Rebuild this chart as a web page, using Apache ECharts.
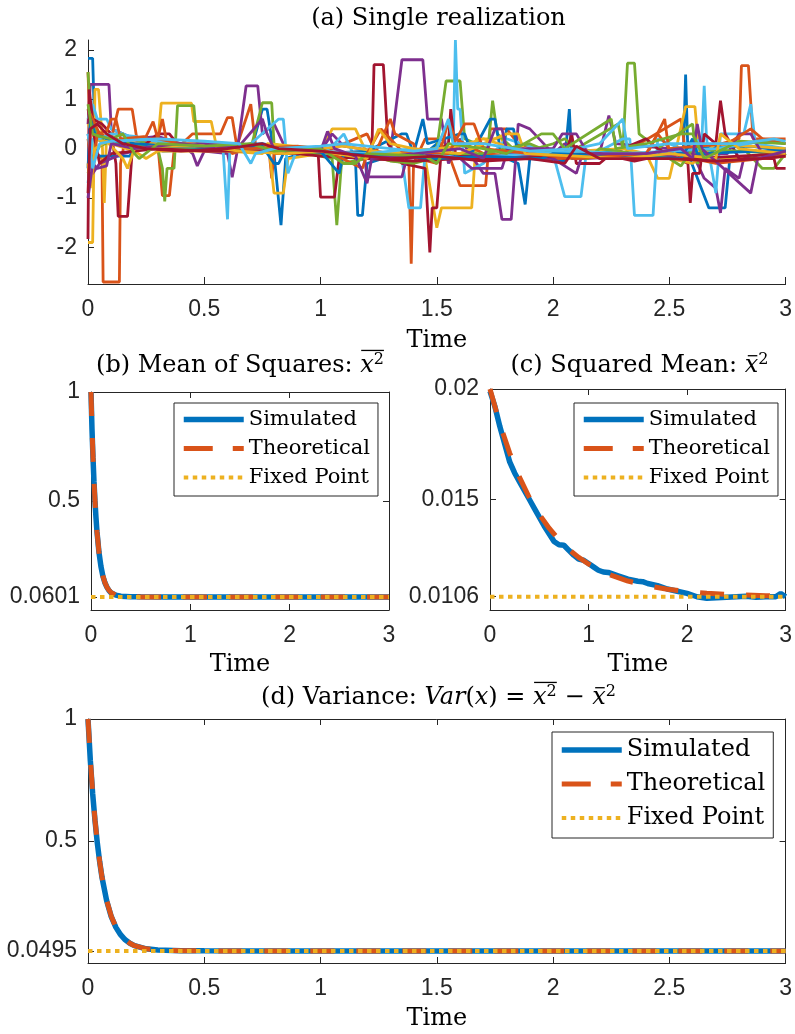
<!DOCTYPE html>
<html><head><meta charset="utf-8">
<script src="https://cdn.jsdelivr.net/npm/echarts@6/dist/echarts.min.js"></script>
<style>html,body{margin:0;padding:0;background:#fff}#c{width:795px;height:1034px}</style>
</head><body><div id="c"></div>
<script>
// ---------- DATA ----------
const matlabColors = ['#0072BD','#D95319','#EDB120','#7E2F8E','#77AC30','#4DBEEE','#A2142F'];
const yTicksA = [-2,-1,0,1,2];
const yTicksB = [0.0601,0.5,1];
const yTicksC = [0.0106,0.015,0.02];
const yTicksD = [0.0495,0.5,1];
const legendNames = ['Simulated','Theoretical','Fixed Point'];

// (a) single realization traces: [time, value]
const blue1 = [[0,1.83],[0.02,1.83],[0.03,0.2],[0.06,0.15],[0.1,0.1],[0.2,0.1],[0.3,0.05],[0.45,0.02],[0.55,0.0],[0.7,-0.05],[0.75,0.8],[0.77,0.8],[0.8,-0.1],[0.83,-1.55],[0.85,-0.2],[0.95,-0.05],[1.1,-0.1],[1.15,-0.2],[1.16,-1.35],[1.18,-1.35],[1.2,-0.3],[1.3,-0.15],[1.45,-0.1],[1.5,0.1],[1.55,-0.15],[1.8,-0.2],[1.85,-0.3],[1.88,-1.13],[1.9,-0.2],[2.05,-0.25],[2.07,0.8],[2.08,-0.2],[2.3,-0.15],[2.5,-0.1],[2.56,-0.1],[2.57,1.5],[2.58,-0.1],[2.67,-1.2],[2.74,-1.2],[2.76,-0.2],[3,-0.1]];
const orange1 = [[0,1.55],[0.01,0.2],[0.04,-0.1],[0.06,-0.2],[0.065,-2.7],[0.135,-2.7],[0.14,-0.3],[0.16,0.2],[0.3,0.1],[0.32,-0.95],[0.35,-0.95],[0.37,-0.05],[0.45,0.3],[0.57,0.3],[0.6,0.63],[0.62,0.63],[0.64,0.05],[0.7,0.9],[0.72,0.1],[0.78,-0.1],[0.79,-0.6],[0.8,-0.1],[1.0,-0.1],[1.2,0.3],[1.25,-0.2],[1.38,-0.3],[1.39,-2.33],[1.4,-0.3],[1.45,0.2],[1.5,0.2],[1.55,-0.1],[1.6,-0.75],[1.71,-0.75],[1.73,0.4],[1.8,0.4],[1.85,0.1],[2.0,-0.1],[2.3,-0.1],[2.55,0.6],[2.57,-0.1],[2.8,0.2],[2.81,1.68],[2.84,1.68],[2.86,0.2],[3,0.2]];
const yellow1 = [[0,-1.9],[0.02,-1.9],[0.03,1.2],[0.045,1.2],[0.06,0.3],[0.07,-1.1],[0.08,0.3],[0.15,0.3],[0.2,0.1],[0.3,0.1],[0.315,0.92],[0.445,0.92],[0.455,0.55],[0.53,0.55],[0.55,0.1],[0.7,0.0],[0.78,-0.05],[0.8,-0.9],[0.84,-0.9],[0.86,-0.2],[1.0,-0.1],[1.05,0.4],[1.15,0.4],[1.2,-0.1],[1.45,-0.2],[1.5,-1.6],[1.52,-1.2],[1.65,-1.2],[1.67,0.2],[1.78,0.2],[1.8,-0.1],[2.2,-0.15],[2.4,-0.1],[2.45,-0.6],[2.5,-0.6],[2.52,-0.2],[2.57,0.85],[2.61,0.85],[2.63,-0.2],[3,-0.15]];
const purple1 = [[0,0.5],[0.01,1.3],[0.09,1.3],[0.1,0.4],[0.2,0.2],[0.3,0.25],[0.4,0.1],[0.45,-0.1],[0.47,-0.35],[0.5,-0.05],[0.6,-0.1],[0.62,-0.58],[0.64,-0.1],[0.68,1.27],[0.73,1.27],[0.75,0.3],[0.8,0.5],[0.85,0.0],[1.0,-0.05],[1.05,0.3],[1.1,0.05],[1.3,-0.1],[1.35,1.8],[1.44,1.8],[1.46,0.6],[1.52,0.6],[1.55,-0.3],[1.6,0.2],[1.7,-0.5],[1.75,-0.5],[1.78,-1.43],[1.82,-1.43],[1.85,0.5],[1.9,0.4],[2.0,-0.1],[2.05,0.1],[2.2,-0.1],[2.24,0.67],[2.27,0.1],[2.5,0.0],[2.6,-0.1],[2.65,-0.6],[2.7,-0.8],[2.72,-1.3],[2.74,-0.4],[2.8,-0.6],[2.82,-0.2],[3,0.0]];
const green1 = [[0,1.55],[0.01,0.8],[0.03,0.4],[0.05,0.2],[0.1,0.1],[0.2,0.2],[0.3,0.0],[0.32,-0.4],[0.33,-1.07],[0.34,-0.4],[0.37,-0.4],[0.385,0.87],[0.455,0.87],[0.47,0.1],[0.6,0.0],[0.7,0.0],[0.75,0.93],[0.79,0.93],[0.8,0.1],[0.9,-0.05],[1.05,-0.2],[1.07,-1.55],[1.09,-0.3],[1.2,-0.2],[1.3,-0.1],[1.5,0.0],[1.54,1.37],[1.6,1.37],[1.62,0.2],[1.72,0.0],[1.74,0.97],[1.76,0.3],[1.85,-0.1],[2.0,0.1],[2.05,0.2],[2.1,0.0],[2.28,0.5],[2.3,0.0],[2.32,1.73],[2.35,1.73],[2.37,0.3],[2.45,0.0],[2.6,0.5],[2.62,-0.3],[2.7,0.0],[2.8,0.1],[2.9,-0.4],[2.95,-0.4],[3,-0.1]];
const cyan1 = [[0,0.6],[0.02,0.9],[0.04,0.6],[0.08,0.6],[0.1,0.4],[0.2,0.2],[0.4,0.1],[0.55,0.05],[0.58,0.05],[0.6,-1.43],[0.61,0.0],[0.7,0.1],[0.82,0.6],[0.84,0.6],[0.86,-0.5],[0.9,0.0],[1.0,-0.1],[1.05,0.05],[1.1,0.3],[1.15,-0.2],[1.35,-0.2],[1.38,-1.2],[1.43,-1.2],[1.45,-0.1],[1.57,-0.1],[1.58,2.2],[1.59,0.8],[1.6,0.8],[1.62,-0.5],[1.7,-0.3],[1.8,0.2],[2.0,-0.1],[2.05,-0.97],[2.12,-0.97],[2.14,-0.2],[2.3,0.2],[2.33,0.2],[2.35,-1.35],[2.43,-1.35],[2.45,0.2],[2.55,0.0],[2.64,0.2],[2.65,1.27],[2.66,0.2],[2.7,-0.9],[2.72,0.3],[2.82,0.3],[2.85,0.9],[2.87,0.1],[3,0.0]];
const red1 = [[0,-1.83],[0.005,1.2],[0.02,0.6],[0.06,0.5],[0.1,0.3],[0.12,-0.3],[0.13,-1.37],[0.17,-1.37],[0.19,-0.05],[0.25,0.1],[0.3,0.3],[0.35,0.3],[0.4,0.0],[0.6,0.1],[0.7,0.05],[0.9,0.0],[0.99,-0.1],[1.0,-0.98],[1.06,-0.98],[1.08,-0.2],[1.15,-0.1],[1.22,-0.2],[1.23,1.7],[1.27,1.7],[1.29,0.1],[1.35,-0.3],[1.45,-0.4],[1.47,-2.1],[1.48,-1.2],[1.5,-1.2],[1.52,0.0],[1.55,0.1],[1.56,0.8],[1.58,-0.1],[1.7,-0.2],[1.9,-0.1],[2.05,-0.2],[2.08,0.3],[2.1,-0.3],[2.2,-0.3],[2.25,-0.1],[2.4,0.2],[2.45,0.0],[2.58,-0.3],[2.59,-1.1],[2.6,-0.5],[2.63,-0.5],[2.65,0.3],[2.7,0.1],[2.72,0.97],[2.74,0.3],[2.8,-0.2],[2.95,-0.2],[2.96,-0.4],[3,-0.4]];
const blue2 = [[0,0.3],[0.02,-0.3],[0.03,-0.15],[0.18,-0.15],[0.2,0],[0.22,0.05],[0.3,0.05],[0.32,-0.05],[0.45,-0.03],[0.55,0.05],[0.75,0.1],[0.9,-0.05],[1.0,-0.1],[1.2,-0.05],[1.35,0.3],[1.37,0.3],[1.4,-0.1],[1.44,0.6],[1.46,0.1],[1.6,0.3],[1.62,0.3],[1.65,-0.1],[1.73,0.6],[1.75,0.6],[1.78,-0.2],[1.8,0.4],[1.83,0.4],[1.85,-0.15],[2.2,-0.05],[2.5,-0.15],[2.6,0],[2.85,0.05],[3,-0.05]];
const orange2 = [[0,0.8],[0.02,0.6],[0.05,0.3],[0.1,0.2],[0.13,0.8],[0.19,0.8],[0.21,0.2],[0.3,0.2],[0.32,0.6],[0.34,0.1],[0.6,0.1],[0.62,-0.1],[0.65,-0.05],[0.85,0.0],[1.0,-0.05],[1.2,-0.1],[1.23,-0.15],[1.3,0.6],[1.32,0.3],[1.4,0.1],[1.42,-0.2],[1.5,-0.3],[1.55,0.55],[1.58,0.2],[1.7,-0.1],[2.0,-0.2],[2.4,-0.15],[2.48,0.6],[2.5,-0.1],[2.7,-0.3],[2.9,-0.2],[3,-0.15]];
const yellow2 = [[0,0.5],[0.03,0.2],[0.1,0.1],[0.2,-0.05],[0.25,-0.2],[0.3,-0.05],[0.6,-0.05],[0.75,-0.1],[0.77,0.1],[1.0,0.0],[1.1,0.05],[1.3,-0.1],[1.5,0.0],[1.6,0.05],[1.7,0.2],[1.9,-0.1],[2.3,0.0],[2.6,-0.3],[2.7,0.1],[3,0.0]];
const purple2 = [[0,-0.6],[0.02,-0.5],[0.05,-0.3],[0.15,-0.1],[0.3,0.05],[0.5,0.1],[0.7,0.0],[0.9,-0.05],[1.1,-0.1],[1.19,-0.2],[1.2,-0.57],[1.35,-0.57],[1.37,-0.2],[1.5,-0.1],[1.6,-0.2],[1.65,-0.4],[1.78,-0.4],[1.8,-0.1],[2.0,-0.2],[2.1,-0.5],[2.12,-0.2],[2.4,-0.15],[2.75,-0.1],[2.8,0.3],[2.85,0.3],[2.9,-0.1],[3,-0.05]];
const green2 = [[0,-0.5],[0.02,-0.2],[0.05,0.05],[0.12,0.2],[0.2,0.05],[0.3,0.02],[0.5,0.0],[0.7,-0.05],[0.95,-0.1],[1.1,-0.2],[1.2,-0.1],[1.3,-0.25],[1.4,-0.3],[1.48,-0.2],[1.55,-0.1],[1.7,-0.1],[1.9,0.1],[2.0,-0.1],[2.15,-0.2],[2.2,0.0],[2.5,-0.2],[2.55,-0.35],[2.6,0.0],[3,-0.1]];
const cyan2 = [[0,-0.7],[0.02,0.2],[0.05,0.2],[0.1,0.3],[0.2,0.25],[0.3,0.15],[0.4,0.1],[0.5,0.05],[0.8,0.0],[1.0,-0.05],[1.2,-0.1],[1.4,0.0],[1.6,-0.2],[1.9,-0.1],[2.1,-0.05],[2.3,-0.1],[2.5,-0.05],[2.7,0.0],[2.9,0.15],[3,0.1]];
const red2 = [[0,0.8],[0.02,0.4],[0.05,-0.3],[0.1,-0.1],[0.2,-0.05],[0.3,0.0],[0.5,-0.05],[0.8,-0.05],[1.0,-0.15],[1.2,-0.2],[1.4,-0.25],[1.6,-0.2],[1.8,-0.2],[2.0,-0.15],[2.2,-0.1],[2.35,-0.25],[2.4,-0.2],[2.6,-0.2],[2.8,-0.15],[3,-0.1]];
const blue3 = [[0,-0.4],[0.01,0.6],[0.03,0.3],[0.08,0.2],[0.12,0.15],[0.2,0.1],[0.35,0.05],[0.6,0.0],[0.75,0.05],[0.8,-0.3],[0.82,-0.3],[0.85,0.0],[1.0,-0.05],[1.08,-0.5],[1.1,-0.1],[1.3,-0.15],[1.5,-0.2],[1.7,-0.15],[1.95,-0.2],[2.0,-0.1],[2.3,-0.15],[2.55,-0.2],[2.6,0.2],[2.62,-0.1],[2.9,-0.05],[3,-0.05]];
const orange3 = [[0,0.2],[0.02,-0.5],[0.04,0.3],[0.08,0.35],[0.1,0.6],[0.12,0.6],[0.14,0.2],[0.25,0.25],[0.28,0.55],[0.3,0.2],[0.4,0.1],[0.5,0.05],[0.7,0.0],[0.9,0.05],[1.0,0.0],[1.05,-0.1],[1.18,-0.4],[1.2,-0.1],[1.26,0.4],[1.3,0.2],[1.35,-0.05],[1.55,-0.1],[1.62,0.5],[1.66,0.5],[1.7,0.0],[1.9,-0.1],[2.1,-0.2],[2.4,-0.1],[2.45,0.3],[2.5,0.0],[2.75,0.1],[2.85,0.4],[2.9,0.2],[3,0.1]];
const yellow3 = [[0,-0.3],[0.01,-0.8],[0.03,0.0],[0.08,0.15],[0.15,-0.2],[0.17,-0.4],[0.2,0.0],[0.3,0.05],[0.5,0.05],[0.65,-0.05],[0.85,-0.1],[1.0,-0.05],[1.2,-0.2],[1.25,0.4],[1.3,0.1],[1.4,0.0],[1.6,-0.1],[1.8,0.3],[1.85,0.3],[1.88,-0.1],[2.1,-0.15],[2.3,-0.2],[2.5,-0.1],[2.7,-0.2],[2.72,0.3],[2.8,0.0],[3,-0.1]];
const purple3 = [[0,-1.0],[0.02,-0.3],[0.04,-0.4],[0.08,-0.35],[0.1,0.1],[0.2,0.0],[0.4,0.1],[0.55,0.0],[0.65,0.05],[0.75,0.6],[0.77,0.3],[0.8,0.0],[1.0,-0.05],[1.03,0.35],[1.06,0.0],[1.15,-0.15],[1.2,-0.7],[1.22,-0.2],[1.4,-0.1],[1.6,0.0],[1.7,-0.2],[1.75,0.4],[1.78,0.4],[1.8,0.0],[2.0,0.0],[2.04,0.3],[2.1,0.3],[2.15,-0.1],[2.4,-0.1],[2.55,0.0],[2.6,-0.2],[2.62,0.5],[2.64,0.0],[2.85,-0.9],[2.88,-0.2],[3,-0.05]];
const green3 = [[0,0.9],[0.02,0.3],[0.05,0.25],[0.1,0.2],[0.15,0.3],[0.2,-0.1],[0.22,-0.2],[0.3,0.1],[0.5,0.05],[0.7,0.1],[0.8,-0.05],[1.0,0.0],[1.1,-0.3],[1.15,-0.3],[1.2,-0.1],[1.45,-0.15],[1.5,-0.3],[1.55,0.1],[1.7,0.0],[1.8,-0.1],[1.95,0.3],[2.0,0.3],[2.05,0.0],[2.25,0.6],[2.27,0.0],[2.4,0.1],[2.55,0.3],[2.6,0.3],[2.65,-0.2],[2.8,0.15],[3,0.1]];
const cyan3 = [[0,0.3],[0.02,-0.4],[0.05,0.1],[0.1,0.15],[0.3,0.2],[0.5,0.15],[0.65,0.1],[0.7,-0.3],[0.72,-0.1],[0.8,0.0],[1.0,0.05],[1.1,0.1],[1.2,0.05],[1.4,-0.05],[1.5,0.0],[1.55,0.6],[1.57,0.1],[1.7,0.1],[1.9,-0.05],[2.1,0.0],[2.2,0.1],[2.3,0.6],[2.32,0.0],[2.5,0.1],[2.8,0.1],[2.95,0.2],[3,0.15]];
const red3 = [[0,-0.9],[0.01,0.4],[0.04,0.5],[0.08,0.3],[0.15,0.1],[0.25,0.0],[0.4,-0.05],[0.6,0.0],[0.75,0.1],[0.82,0.0],[1.0,-0.05],[1.1,-0.1],[1.3,-0.2],[1.5,-0.15],[1.7,-0.25],[1.9,-0.2],[2.05,-0.3],[2.1,0.05],[2.2,-0.2],[2.5,-0.2],[2.7,-0.25],[2.9,-0.2],[3,-0.15]];
const realizations = [blue1,orange1,yellow1,purple1,green1,cyan1,red1,
                      blue2,orange2,yellow2,purple2,green2,cyan2,red2,
                      blue3,orange3,yellow3,purple3,green3,cyan3,red3];

// (b) mean of squares
const timeFast = [0,0.01,0.02,0.03,0.04,0.05,0.06,0.08,0.1,0.12,0.14,0.16,0.18,0.2,0.25,0.3,0.4,0.5,0.75,1,1.5,2,2.5,3];
const simB  = [1,0.83,0.70,0.59,0.50,0.425,0.36,0.265,0.2,0.155,0.125,0.105,0.09,0.08,0.068,0.063,0.061,0.0603,0.0601,0.0600,0.0602,0.0601,0.0600,0.0601];
const theoB = [1,0.837,0.703,0.592,0.5,0.424,0.361,0.266,0.201,0.156,0.126,0.105,0.091,0.081,0.068,0.063,0.0606,0.0602,0.0601,0.0601,0.0601,0.0601,0.0601,0.0601];
const fixedB = 0.0601;

// (c) squared mean
const timeC = [0,0.05,0.1,0.15,0.2,0.25,0.3,0.35,0.4,0.45,0.5,0.55,0.6,0.65,0.7,0.75,0.8,0.85,0.9,0.95,1,1.05,1.1,1.15,1.2,1.3,1.4,1.5,1.55,1.6,1.7,1.8,1.9,2,2.1,2.2,2.3,2.4,2.5,2.6,2.7,2.8,2.9,2.95,3];
const simC  = [0.0199,0.0192,0.0183,0.0175,0.0167,0.0162,0.0158,0.0154,0.0150,0.0146,0.0142,0.0138,0.01345,0.0131,0.01295,0.01293,0.0127,0.01248,0.0123,0.01225,0.0121,0.01195,0.0118,0.01172,0.0117,0.01155,0.0114,0.0113,0.01128,0.0112,0.0111,0.01095,0.01085,0.01075,0.0106,0.01053,0.01055,0.01058,0.0106,0.01062,0.01058,0.0106,0.0106,0.01075,0.0106];
const timeTheoC = [0,0.1,0.2,0.3,0.4,0.5,0.6,0.7,0.8,0.9,1,1.2,1.4,1.6,1.8,2,2.2,2.4,2.6,2.8,3];
const theoC = [0.0200,0.01841,0.01710,0.01600,0.01508,0.01433,0.01370,0.01318,0.01274,0.01238,0.01208,0.01162,0.01131,0.01109,0.01094,0.01083,0.01076,0.01071,0.01068,0.01065,0.01064];
const fixedC = 0.0106;

// (d) variance
const simD  = [1,0.83,0.695,0.585,0.492,0.416,0.352,0.256,0.19,0.146,0.116,0.095,0.081,0.071,0.058,0.053,0.0502,0.0497,0.0494,0.0495,0.0496,0.0495,0.0494,0.0495];
const theoD = [1,0.835,0.699,0.587,0.494,0.417,0.353,0.257,0.192,0.147,0.116,0.095,0.081,0.071,0.058,0.0527,0.05,0.0496,0.0495,0.0495,0.0495,0.0495,0.0495,0.0495];
const fixedD = 0.0495;

// ---------- STYLE / LAYOUT ----------
const SERIF = 'DejaVu Serif';
const SANS = 'Liberation Sans';
const AX = '#262626';
const C_SIM = '#0072BD', C_THEO = '#D95319', C_FIX = '#EDB120';
const DASH_THEO = [24, 22], DOT_FIX = [4.5, 4.5];
const pair = (ts, vs) => ts.map((t, i) => [t, vs[i]]);

const grids = [
  {left: 88, top: 40, width: 701, height: 244},
  {left: 91, top: 392, width: 298, height: 218},
  {left: 490, top: 389, width: 299, height: 221},
  {left: 88, top: 719, width: 701, height: 244}
];

function xAx(grid, interval, opts) {
  return Object.assign({
    type: 'value', gridIndex: grid, min: 0, max: 3, interval: interval, position: 'bottom',
    axisLine: {show: true, onZero: false, lineStyle: {color: AX, width: 1}},
    axisTick: {show: true, inside: true, length: 6, lineStyle: {color: AX}},
    axisLabel: {show: true, color: AX, fontFamily: SANS, fontSize: 23, margin: 14},
    splitLine: {show: false},
    name: 'Time', nameLocation: 'middle', nameGap: 43,
    nameTextStyle: {fontFamily: SERIF, fontSize: 24, color: '#000'}
  }, opts || {});
}
function xTop(grid, interval) {
  return xAx(grid, interval, {position: 'top', name: '', axisLabel: {show: false}});
}
function yAx(grid, min, max, ticks, opts) {
  return Object.assign({
    type: 'value', gridIndex: grid, min: min, max: max, position: 'left',
    axisLine: {show: true, onZero: false, lineStyle: {color: AX, width: 1}},
    axisTick: {show: true, inside: true, length: 6, customValues: ticks, lineStyle: {color: AX}},
    axisLabel: {show: true, color: AX, fontFamily: SANS, fontSize: 23, margin: 11, customValues: ticks,
                formatter: v => String(v)},
    splitLine: {show: false}
  }, opts || {});
}
function yRight(grid, min, max, ticks) {
  const a = yAx(grid, min, max, ticks, {position: 'right'});
  a.axisLabel = {show: false};
  return a;
}

const xAxes = [
  xAx(0, 0.5, {axisTick: {show: true, inside: true, length: 7, lineStyle: {color: AX}}, nameGap: 45}),
  xAx(1, 1), xTop(1, 1),
  xAx(2, 1), xTop(2, 1),
  xAx(3, 0.5, {nameGap: 44}), xTop(3, 0.5)
];
const yAxes = [
  yAx(0, -2.74, 2.2, yTicksA),
  yAx(1, 0, 1, yTicksB), yRight(1, 0, 1, yTicksB),
  yAx(2, 0.01, 0.02, yTicksC), yRight(2, 0.01, 0.02, yTicksC),
  yAx(3, 0, 1, yTicksD), yRight(3, 0, 1, yTicksD)
];

const series = [];
realizations.forEach((d, i) => {
  series.push({type: 'line', xAxisIndex: 0, yAxisIndex: 0, data: d, symbol: 'none', silent: true,
    lineStyle: {width: 2.8, color: matlabColors[i % 7]}, itemStyle: {color: matlabColors[i % 7]}});
});
function trio(xi, yi, simData, theoData, fixed) {
  series.push({name: legendNames[0], type: 'line', xAxisIndex: xi, yAxisIndex: yi, data: simData, symbol: 'none',
    lineStyle: {width: 5.5, color: C_SIM}, itemStyle: {color: C_SIM}});
  series.push({name: legendNames[1], type: 'line', xAxisIndex: xi, yAxisIndex: yi, data: theoData, symbol: 'none',
    lineStyle: {width: 5, color: C_THEO, type: DASH_THEO}, itemStyle: {color: C_THEO}});
  series.push({name: legendNames[2], type: 'line', xAxisIndex: xi, yAxisIndex: yi, data: [[0, fixed], [3, fixed]], symbol: 'none',
    lineStyle: {width: 4, color: C_FIX, type: DOT_FIX}, itemStyle: {color: C_FIX}});
}
trio(1, 1, pair(timeFast, simB), pair(timeFast, theoB), fixedB);
trio(3, 3, pair(timeC, simC), pair(timeTheoC, theoC), fixedC);
trio(5, 5, pair(timeFast, simD), pair(timeFast, theoD), fixedD);

function legendAt(left, top, size, gap) {
  const styles = [
    {width: 5.5, color: C_SIM, type: 'solid'},
    {width: 5, color: C_THEO, type: [29, 20]},
    {width: 4, color: C_FIX, type: DOT_FIX}
  ];
  return {
    show: true, orient: 'vertical', left: left, top: top,
    data: legendNames.map((n, i) => ({name: n, lineStyle: Object.assign({opacity: 1, cap: 'butt'}, styles[i]),
                                       itemStyle: {opacity: 0}})),
    itemWidth: 60, itemHeight: 14, itemGap: gap, selectedMode: false,
    backgroundColor: '#fff', borderColor: AX, borderWidth: 1, borderRadius: 0,
    padding: [6, 8, 8, 7],
    textStyle: {fontFamily: SERIF, fontSize: size, color: '#000'}
  };
}

// ---------- MATH TITLES ----------
const mctx = document.createElement('canvas').getContext('2d');
function fnt(size, it) { return (it ? 'italic ' : '') + size + 'px "' + SERIF + '"'; }
function tw(s, size, it) { mctx.font = fnt(size, it); return mctx.measureText(s).width; }
function mathTitle(segs, cx, base, size) {
  const els = [];
  const supSize = Math.round(size * 0.68);
  const widths = segs.map(s => tw(s.t, s.sup ? supSize : size, s.it));
  const total = widths.reduce((a, b) => a + b, 0);
  let x = cx - total / 2;
  const groups = {};
  segs.forEach((s, i) => {
    const sz = s.sup ? supSize : size;
    const yb = s.sup ? base - size * 0.36 : base;
    els.push({type: 'text', x: x, y: yb - sz * 0.3, silent: true,
      style: {text: s.t, font: fnt(sz, s.it), fill: '#000', align: 'left', verticalAlign: 'middle'}});
    if (s.g) {
      const g = groups[s.g] || (groups[s.g] = {x0: x, x1: x, kind: s.kind});
      g.x1 = x + widths[i];
    }
    x += widths[i];
  });
  Object.keys(groups).forEach(k => {
    const g = groups[k];
    const y = g.kind === 'over' ? base - size * 0.94 : base - size * 0.72;
    const x0 = g.kind === 'over' ? g.x0 + 1 : g.x0 + 3;
    const x1 = g.kind === 'over' ? g.x1 : g.x1 - 1;
    els.push({type: 'line', silent: true, shape: {x1: x0, y1: y, x2: x1, y2: y},
      style: {stroke: '#000', lineWidth: 1.3}});
  });
  return els;
}
const graphics = [].concat(
  mathTitle([{t: '(a) Single realization'}], 438.5, 26, 24),
  mathTitle([{t: '(b) Mean of Squares: '}, {t: 'x', it: true, g: 'o', kind: 'over'}, {t: '2', sup: true, g: 'o', kind: 'over'}], 240, 373, 24),
  mathTitle([{t: '(c) Squared Mean: '}, {t: 'x', it: true, g: 'b', kind: 'bar'}, {t: '2', sup: true}], 639.5, 373, 24),
  mathTitle([{t: '(d) Variance: '}, {t: 'Var', it: true}, {t: '('}, {t: 'x', it: true}, {t: ') = '},
             {t: 'x', it: true, g: 'o', kind: 'over'}, {t: '2', sup: true, g: 'o', kind: 'over'}, {t: ' \u2212 '},
             {t: 'x', it: true, g: 'b', kind: 'bar'}, {t: '2', sup: true}], 438.5, 705, 24)
);

const chart = echarts.init(document.getElementById('c'), null, {renderer: 'canvas'});
chart.setOption({
  animation: false,
  backgroundColor: '#fff',
  grid: grids,
  xAxis: xAxes,
  yAxis: yAxes,
  legend: [legendAt(174, 403, 21, 8), legendAt(574, 403, 21, 8), legendAt(552, 732, 24, 10)],
  graphic: graphics,
  series: series
});
</script></body></html>
